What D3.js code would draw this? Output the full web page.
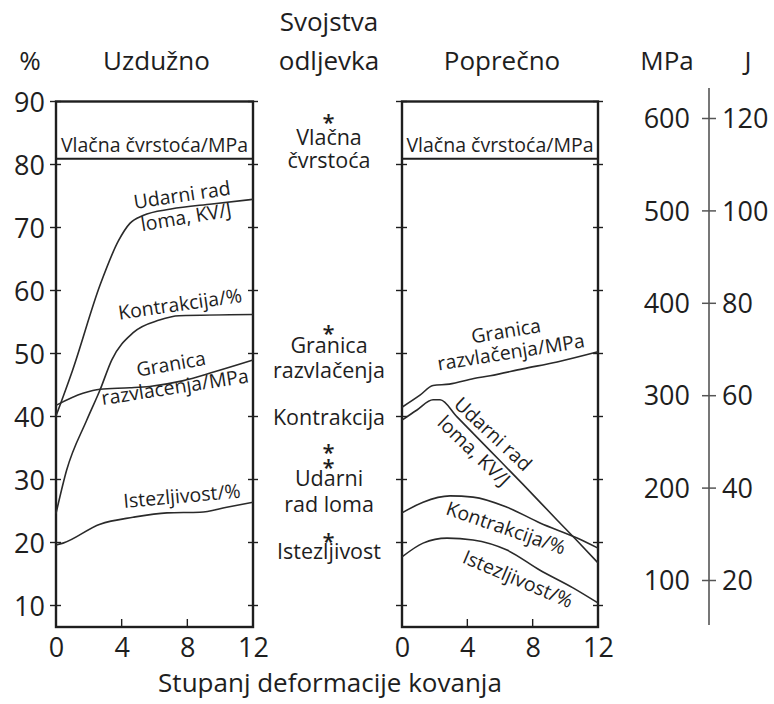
<!DOCTYPE html>
<html>
<head>
<meta charset="utf-8">
<script src="https://cdn.jsdelivr.net/npm/d3@7"></script>
<style>
  html, body { margin: 0; padding: 0; background: #fff; }
  svg { display: block; font-family: "Open Sans", sans-serif; }
</style>
</head>
<body>
<svg id="chart" width="774" height="704"></svg>
<script>
// ---------- DATA ----------
const xTicks = [0, 4, 8, 12];
const pctTicks = [10, 20, 30, 40, 50, 60, 70, 80, 90];
const mpaTicks = [100, 200, 300, 400, 500, 600];
const jTicks = [20, 40, 60, 80, 100, 120];

// Uzdužno (longitudinal)  [stupanj deformacije, vrijednost]
const longVlacnaMPa   = [[0, 556], [12, 556]];
const longUdarniJ     = [[0, 55.5], [1, 65.3], [2.7, 84.0], [3.8, 93.4], [4.5, 97.2], [5.3, 98.9], [7, 100.3], [9.5, 101.4], [12, 102.4]];
const longKontrakcija = [[0, 24.6], [0.65, 31.5], [1.87, 39.4], [2.68, 44.2], [3.4, 49.0], [4.7, 53.3], [6.3, 55.3], [7.5, 56.0], [12, 56.2]];
const longGranicaMPa  = [[0, 289], [1.64, 302], [2.68, 306.5], [4.5, 308], [5.7, 309.5], [7.7, 315.5], [9.6, 325], [12, 338]];
const longIstezljivost= [[0, 19.6], [0.43, 19.9], [2.68, 22.9], [4.69, 24.0], [6.76, 24.7], [8.77, 24.8], [10.4, 25.6], [12, 26.4]];

// Poprečno (transverse)
const transVlacnaMPa   = [[0, 556], [12, 556]];
const transGranicaMPa  = [[0, 287], [1.1, 300], [1.9, 310.5], [2.9, 312], [4.4, 318], [5.4, 321], [7.4, 328.5], [9.5, 336], [12, 347]];
const transUdarniJ     = [[0, 54.6], [0.92, 56.8], [1.9, 59.0], [2.33, 59.0], [3.37, 55.3], [5.39, 48.0], [7.41, 40.7], [9.49, 33.0], [10.72, 28.5], [12, 23.7]];
const transKontrakcija = [[0, 24.7], [1.29, 26.4], [2.94, 27.4], [4.35, 27.2], [6.43, 25.6], [8.45, 23.1], [10.72, 20.7], [12, 19.1]];
const transIstezljivost= [[0, 17.7], [1.29, 19.9], [2.76, 20.7], [4.35, 20.4], [6.43, 18.8], [8.45, 15.6], [10.47, 12.8], [12, 10.4]];

// Svojstva odljevka (cast values, marked with *)
const castNames  = ["Vlačna čvrstoća", "Granica razvlačenja", "Kontrakcija", "Udarni rad loma", "Istezljivost"];
const castValues = [601, 372, 35.2, 45.4, 21.0];
const castUnits  = ["MPa", "MPa", "%", "J", "%"];

// ---------- LAYOUT ----------
const svg = d3.select("#chart");
const ink = "#1e1e1e";
const curveInk = "#2a2a2a";

const xL = d3.scaleLinear().domain([0, 12]).range([56, 253]);
const xR = d3.scaleLinear().domain([0, 12]).range([402, 598]);
const yPct = d3.scaleLinear().domain([10, 90]).range([605.5, 101.5]);
const yMPa = d3.scaleLinear().domain([100, 600]).range([580, 118]);
const yJ   = d3.scaleLinear().domain([20, 120]).range([580, 118]);
const yScaleFor = { "%": yPct, "MPa": yMPa, "J": yJ };

const frameTop = yPct(90);
const frameBottom = 627;

// Frames
[xL, xR].forEach(x => {
  svg.append("rect")
    .attr("x", x(0)).attr("y", frameTop)
    .attr("width", x(12) - x(0)).attr("height", frameBottom - frameTop)
    .attr("fill", "none").attr("stroke", ink).attr("stroke-width", 2.4);

  const tk = svg.append("g");
  pctTicks.forEach(v => {
    tk.append("line").attr("x1", x(0) - 6).attr("x2", x(0) + 5)
      .attr("y1", yPct(v)).attr("y2", yPct(v)).attr("stroke", ink).attr("stroke-width", 1.4);
    tk.append("line").attr("x1", x(12) - 5).attr("x2", x(12) + 5)
      .attr("y1", yPct(v)).attr("y2", yPct(v)).attr("stroke", ink).attr("stroke-width", 1.4);
  });

  const xAxis = d3.axisBottom(x).tickValues(xTicks).tickSize(0).tickPadding(0).tickFormat(d3.format("d"));
  const gx = svg.append("g").attr("transform", `translate(0,${frameBottom})`).call(xAxis);
  gx.select(".domain").remove();
  gx.selectAll("text").attr("font-size", 27).attr("fill", ink)
    .attr("font-family", "Open Sans").attr("dy", null).attr("y", 30);
  xTicks.forEach(v => {
    svg.append("line").attr("x1", x(v)).attr("x2", x(v))
      .attr("y1", frameBottom).attr("y2", frameBottom - 8).attr("stroke", ink).attr("stroke-width", 1.4);
  });
});

// Left % axis labels
const yAxisL = d3.axisLeft(yPct).tickValues(pctTicks).tickSize(0).tickPadding(0);
const gyl = svg.append("g").attr("transform", `translate(45,0)`).call(yAxisL);
gyl.select(".domain").remove();
gyl.selectAll("text").attr("font-size", 27).attr("fill", ink).attr("font-family", "Open Sans")
  .attr("x", 0).attr("dy", "0.36em");

// Vlačna čvrstoća horizontal line
const lineGen = (x, y) => d3.line().x(d => x(d[0])).y(d => y(d[1])).curve(d3.curveMonotoneX);
svg.append("path").datum(longVlacnaMPa).attr("d", lineGen(xL, yMPa))
  .attr("fill", "none").attr("stroke", ink).attr("stroke-width", 2);
svg.append("path").datum(transVlacnaMPa).attr("d", lineGen(xR, yMPa))
  .attr("fill", "none").attr("stroke", ink).attr("stroke-width", 2);

// Curves
const curves = [
  [longUdarniJ, xL, yJ], [longKontrakcija, xL, yPct], [longGranicaMPa, xL, yMPa], [longIstezljivost, xL, yPct],
  [transGranicaMPa, xR, yMPa], [transUdarniJ, xR, yJ], [transKontrakcija, xR, yPct], [transIstezljivost, xR, yPct]
];
curves.forEach(([data, x, y]) => {
  svg.append("path").datum(data).attr("d", lineGen(x, y))
    .attr("fill", "none").attr("stroke", curveInk).attr("stroke-width", 1.6);
});

// Right MPa / J axis
const axX = 709;
svg.append("line").attr("x1", axX).attr("x2", axX).attr("y1", 88).attr("y2", 625)
  .attr("stroke", "#555").attr("stroke-width", 1.6);
const gM = svg.append("g").attr("transform", `translate(${axX},0)`)
  .call(d3.axisLeft(yMPa).tickValues(mpaTicks).tickSize(7).tickPadding(12));
gM.select(".domain").remove();
gM.selectAll("line").attr("stroke", "#555").attr("stroke-width", 1.5);
gM.selectAll("text").attr("font-size", 27).attr("fill", ink).attr("font-family", "Open Sans").attr("dy", "0.36em");
const gJ = svg.append("g").attr("transform", `translate(${axX},0)`)
  .call(d3.axisRight(yJ).tickValues(jTicks).tickSize(7).tickPadding(6));
gJ.select(".domain").remove();
gJ.selectAll("line").attr("stroke", "#555").attr("stroke-width", 1.5);
gJ.selectAll("text").attr("font-size", 27).attr("fill", ink).attr("font-family", "Open Sans").attr("dy", "0.36em");

// Headers
const txt = (s, x, y, size, anchor = "middle") =>
  svg.append("text").attr("x", x).attr("y", y).attr("font-size", size)
    .attr("text-anchor", anchor).attr("fill", ink).text(s);
txt("%", 30, 70, 26);
txt("Uzdužno", 156.5, 70, 26);
txt("Svojstva", 329, 31, 26);
txt("odljevka", 329, 70, 26);
txt("Poprečno", 502, 70, 26);
txt("MPa", 667, 70, 26);
txt("J", 748, 70, 26);
txt("Stupanj deformacije kovanja", 330, 692, 26);

// Middle column: cast property labels
const midX = 329;
const midLabels = [
  ["Vlačna", 145], ["čvrstoća", 168],
  ["Granica", 353], ["razvlačenja", 378],
  ["Kontrakcija", 425],
  ["Udarni", 486], ["rad loma", 512],
  ["Istezljivost", 559]
];
midLabels.forEach(([s, y]) => txt(s, midX, y, 21.5));

// Asterisks at cast values
castValues.forEach((v, i) => {
  const y = yScaleFor[castUnits[i]](v);
  svg.append("text").attr("x", midX - 0.5).attr("y", y).attr("dy", "0.58em")
    .attr("font-size", 22).attr("font-weight", 600).attr("text-anchor", "middle").attr("fill", ink).text("*")
    .append("title").text(castNames[i] + ": " + v + " " + castUnits[i]);
});

// In-panel labels
const panelFont = 19.5;
const pLabel = (s, cx, cy, angle) =>
  svg.append("text").attr("transform", `translate(${cx},${cy}) rotate(${angle})`)
    .attr("dy", "0.35em").attr("font-size", panelFont).attr("text-anchor", "middle")
    .attr("fill", ink).text(s);

svg.append("text").attr("x", (xL(0) + xL(12)) / 2).attr("y", 152).attr("font-size", panelFont)
  .attr("text-anchor", "middle").attr("fill", ink).text("Vlačna čvrstoća/MPa");
svg.append("text").attr("x", (xR(0) + xR(12)) / 2).attr("y", 152).attr("font-size", panelFont)
  .attr("text-anchor", "middle").attr("fill", ink).text("Vlačna čvrstoća/MPa");

pLabel("Udarni rad", 182, 195, -8.5);
pLabel("loma, KV/J", 186, 217, -9.5);
pLabel("Kontrakcija/%", 180, 304, -8.2);
pLabel("Granica", 171, 364, -10);
pLabel("razvlacenja/MPa", 175, 387, -8.8);
pLabel("Istezljivost/%", 182, 496, -5);

pLabel("Granica", 506, 331, -9.5);
pLabel("razvlačenja/MPa", 511, 352, -9);
pLabel("Udarni rad", 493, 434, 43);
pLabel("loma, KV/J", 474, 451, 44);
pLabel("Kontrakcija/%", 506, 528, 19);
pLabel("Istezljivost/%", 518, 579, 23);
</script>
</body>
</html>
